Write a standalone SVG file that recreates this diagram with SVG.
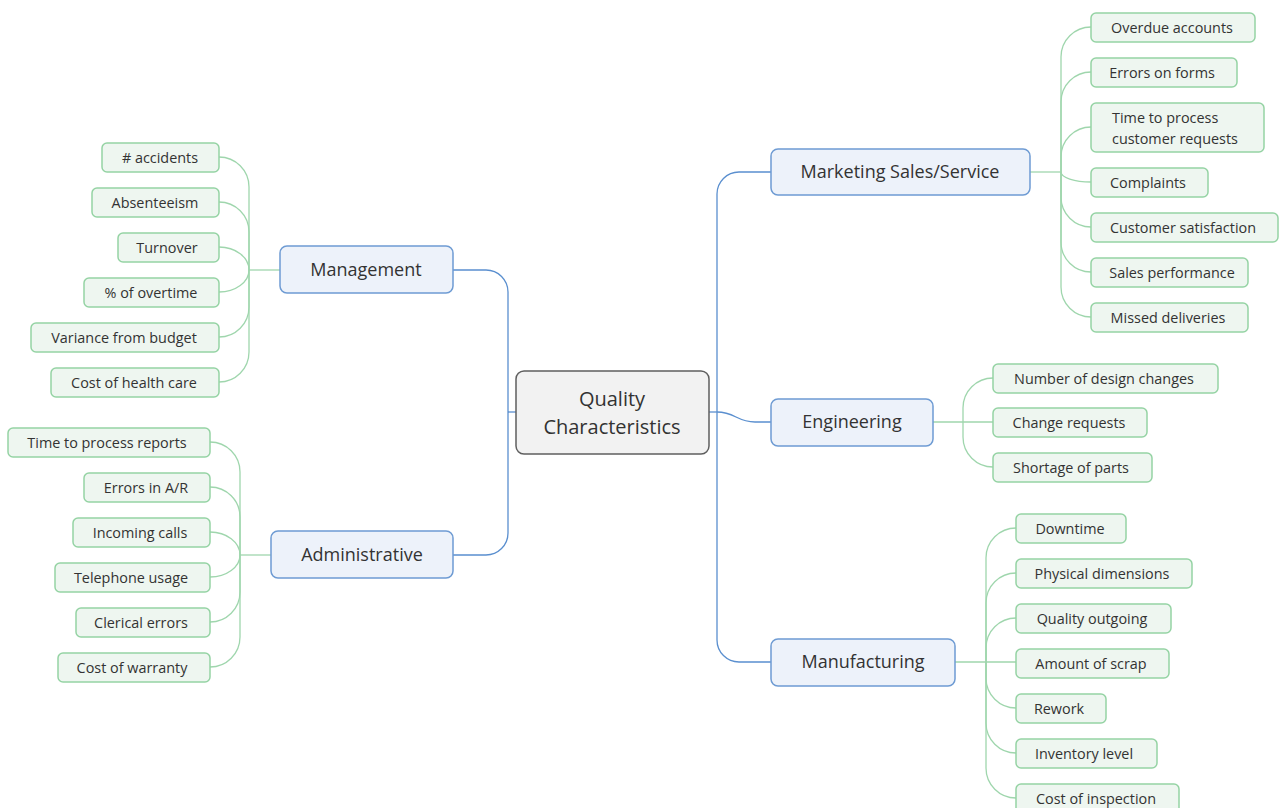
<svg xmlns="http://www.w3.org/2000/svg" width="1285" height="808" viewBox="0 0 1285 808">
<style>
.main{fill:#edf2fa;stroke:#6e9bd3;stroke-width:1.5}
.leaf{fill:#eef6f0;stroke:#95d3a4;stroke-width:1.5}
.center{fill:#f2f2f2;stroke:#5f5f5f;stroke-width:1.5}
.bl{fill:none;stroke:#5a8fcf;stroke-width:1.3}
.gl{fill:none;stroke:#9fd6ad;stroke-width:1.3}
text{font-family:"Open Sans","Noto Sans","Liberation Sans",sans-serif;fill:#333}
.lt{font-size:14.4px;text-anchor:middle}
.mt{font-size:18px;text-anchor:middle}
.ct{font-size:20px;text-anchor:middle}
</style>
<rect width="1285" height="808" fill="#fff"/>
<g id="connectors">
<g class="bl">
<path d="M516 412 H508"/>
<path d="M453 270 H486 A22 22 0 0 1 508 292 V412"/>
<path d="M453 555 H486 A22 22 0 0 0 508 533 V412"/>
<path d="M709 412 H717"/>
<path d="M771 172 H739 A22 22 0 0 0 717 194 V412"/>
<path d="M771 662 H739 A22 22 0 0 1 717 640 V412"/>
<path d="M717 412 C735 412 737 422 755 422 H771"/>
</g>
<g class="gl">
<path d="M280 270 H249"/>
<path d="M219 157 C235.6 157 249 170.4 249 187 V270"/>
<path d="M219 202 C235.6 202 249 215.4 249 232 V270"/>
<path d="M219 247 C235.6 247 249 257.3 249 270"/>
<path d="M219 292 C235.6 292 249 282.1 249 270"/>
<path d="M219 337 C235.6 337 249 323.6 249 307 V270"/>
<path d="M219 382 C235.6 382 249 368.6 249 352 V270"/>
<path d="M271 555 H240"/>
<path d="M210 442 C226.6 442 240 455.4 240 472 V555"/>
<path d="M210 487 C226.6 487 240 500.4 240 517 V555"/>
<path d="M210 532 C226.6 532 240 542.3 240 555"/>
<path d="M210 577 C226.6 577 240 567.1 240 555"/>
<path d="M210 622 C226.6 622 240 608.6 240 592 V555"/>
<path d="M210 667 C226.6 667 240 653.6 240 637 V555"/>
<path d="M1030 172 H1061"/>
<path d="M1091 27 C1074.4 27 1061 40.4 1061 57 V172"/>
<path d="M1091 72 C1074.4 72 1061 85.4 1061 102 V172"/>
<path d="M1091 127 C1074.4 127 1061 140.4 1061 157 V172"/>
<path d="M1091 182 C1074.4 182 1061 177.5 1061 172"/>
<path d="M1091 227 C1074.4 227 1061 213.6 1061 197 V172"/>
<path d="M1091 272 C1074.4 272 1061 258.6 1061 242 V172"/>
<path d="M1091 317 C1074.4 317 1061 303.6 1061 287 V172"/>
<path d="M933 422 H993"/>
<path d="M993 378 C976.4 378 963 391.4 963 408 V422"/>
<path d="M993 467 C976.4 467 963 453.6 963 437 V422"/>
<path d="M955 662 H1016"/>
<path d="M1016 528 C999.4 528 986 541.4 986 558 V662"/>
<path d="M1016 573 C999.4 573 986 586.4 986 603 V662"/>
<path d="M1016 618 C999.4 618 986 631.4 986 648 V662"/>
<path d="M1016 708 C999.4 708 986 694.6 986 678 V662"/>
<path d="M1016 753 C999.4 753 986 739.6 986 723 V662"/>
<path d="M1016 798 C999.4 798 986 784.6 986 768 V662"/>
</g>
</g>
<g id="center"><rect class="center" x="516" y="371" width="193" height="83" rx="8"/><text class="ct" x="612" y="406">Quality</text><text class="ct" x="612" y="434">Characteristics</text></g>
<g id="management"><rect class="main" x="280" y="246" width="173" height="47" rx="7"/><text class="mt" x="366" y="276">Management</text></g>
<g id="administrative"><rect class="main" x="271" y="531" width="182" height="47" rx="7"/><text class="mt" x="362" y="561">Administrative</text></g>
<g id="marketing"><rect class="main" x="771" y="149" width="259" height="46" rx="7"/><text class="mt" x="900" y="178">Marketing Sales/Service</text></g>
<g id="engineering"><rect class="main" x="771" y="399" width="162" height="47" rx="7"/><text class="mt" x="852" y="428">Engineering</text></g>
<g id="manufacturing"><rect class="main" x="771" y="639" width="184" height="47" rx="7"/><text class="mt" x="863" y="668">Manufacturing</text></g>

<g id="m1"><rect class="leaf" x="102" y="143" width="117" height="29" rx="5"/><text class="lt" x="160" y="163">#  accidents</text></g>
<g id="m2"><rect class="leaf" x="92" y="188" width="127" height="29" rx="5"/><text class="lt" x="155" y="208">Absenteeism</text></g>
<g id="m3"><rect class="leaf" x="118" y="233" width="101" height="29" rx="5"/><text class="lt" x="167" y="253">Turnover</text></g>
<g id="m4"><rect class="leaf" x="84" y="278" width="135" height="29" rx="5"/><text class="lt" x="151" y="298">% of overtime</text></g>
<g id="m5"><rect class="leaf" x="31" y="323" width="188" height="29" rx="5"/><text class="lt" x="124" y="343">Variance from budget</text></g>
<g id="m6"><rect class="leaf" x="51" y="368" width="168" height="29" rx="5"/><text class="lt" x="134" y="388">Cost of health care</text></g>

<g id="a1"><rect class="leaf" x="8" y="428" width="202" height="29" rx="5"/><text class="lt" x="107" y="448">Time to process reports</text></g>
<g id="a2"><rect class="leaf" x="84" y="473" width="126" height="29" rx="5"/><text class="lt" x="146" y="493">Errors in A/R</text></g>
<g id="a3"><rect class="leaf" x="73" y="518" width="137" height="29" rx="5"/><text class="lt" x="140" y="538">Incoming calls</text></g>
<g id="a4"><rect class="leaf" x="55" y="563" width="155" height="29" rx="5"/><text class="lt" x="131" y="583">Telephone usage</text></g>
<g id="a5"><rect class="leaf" x="76" y="608" width="134" height="29" rx="5"/><text class="lt" x="141" y="628">Clerical errors</text></g>
<g id="a6"><rect class="leaf" x="58" y="653" width="152" height="29" rx="5"/><text class="lt" x="132" y="673">Cost of warranty</text></g>

<g id="s1"><rect class="leaf" x="1091" y="13" width="164" height="29" rx="5"/><text class="lt" x="1172" y="33">Overdue accounts</text></g>
<g id="s2"><rect class="leaf" x="1091" y="58" width="146" height="29" rx="5"/><text class="lt" x="1162" y="78">Errors on forms</text></g>
<g id="s3"><rect class="leaf" x="1091" y="103" width="173" height="49" rx="5"/><text x="1112" y="123" font-size="14.4">Time to process</text><text x="1112" y="144" font-size="14.4">customer requests</text></g>
<g id="s4"><rect class="leaf" x="1091" y="168" width="117" height="29" rx="5"/><text class="lt" x="1148" y="188">Complaints</text></g>
<g id="s5"><rect class="leaf" x="1091" y="213" width="187" height="29" rx="5"/><text class="lt" x="1183" y="233">Customer satisfaction</text></g>
<g id="s6"><rect class="leaf" x="1091" y="258" width="157" height="29" rx="5"/><text class="lt" x="1172" y="278">Sales performance</text></g>
<g id="s7"><rect class="leaf" x="1091" y="303" width="157" height="29" rx="5"/><text class="lt" x="1168" y="323">Missed deliveries</text></g>

<g id="e1"><rect class="leaf" x="993" y="364" width="225" height="29" rx="5"/><text class="lt" x="1104" y="384">Number of design changes</text></g>
<g id="e2"><rect class="leaf" x="993" y="408" width="154" height="29" rx="5"/><text class="lt" x="1069" y="428">Change requests</text></g>
<g id="e3"><rect class="leaf" x="993" y="453" width="159" height="29" rx="5"/><text class="lt" x="1071" y="473">Shortage of parts</text></g>

<g id="f1"><rect class="leaf" x="1016" y="514" width="110" height="29" rx="5"/><text class="lt" x="1070" y="534">Downtime</text></g>
<g id="f2"><rect class="leaf" x="1016" y="559" width="176" height="29" rx="5"/><text class="lt" x="1102" y="579">Physical dimensions</text></g>
<g id="f3"><rect class="leaf" x="1016" y="604" width="155" height="29" rx="5"/><text class="lt" x="1092" y="624">Quality outgoing</text></g>
<g id="f4"><rect class="leaf" x="1016" y="649" width="153" height="29" rx="5"/><text class="lt" x="1091" y="669">Amount of scrap</text></g>
<g id="f5"><rect class="leaf" x="1016" y="694" width="90" height="29" rx="5"/><text class="lt" x="1059" y="714">Rework</text></g>
<g id="f6"><rect class="leaf" x="1016" y="739" width="141" height="29" rx="5"/><text class="lt" x="1084" y="759">Inventory level</text></g>
<g id="f7"><rect class="leaf" x="1016" y="784" width="163" height="29" rx="5"/><text class="lt" x="1096" y="804">Cost of inspection</text></g>
</svg>
